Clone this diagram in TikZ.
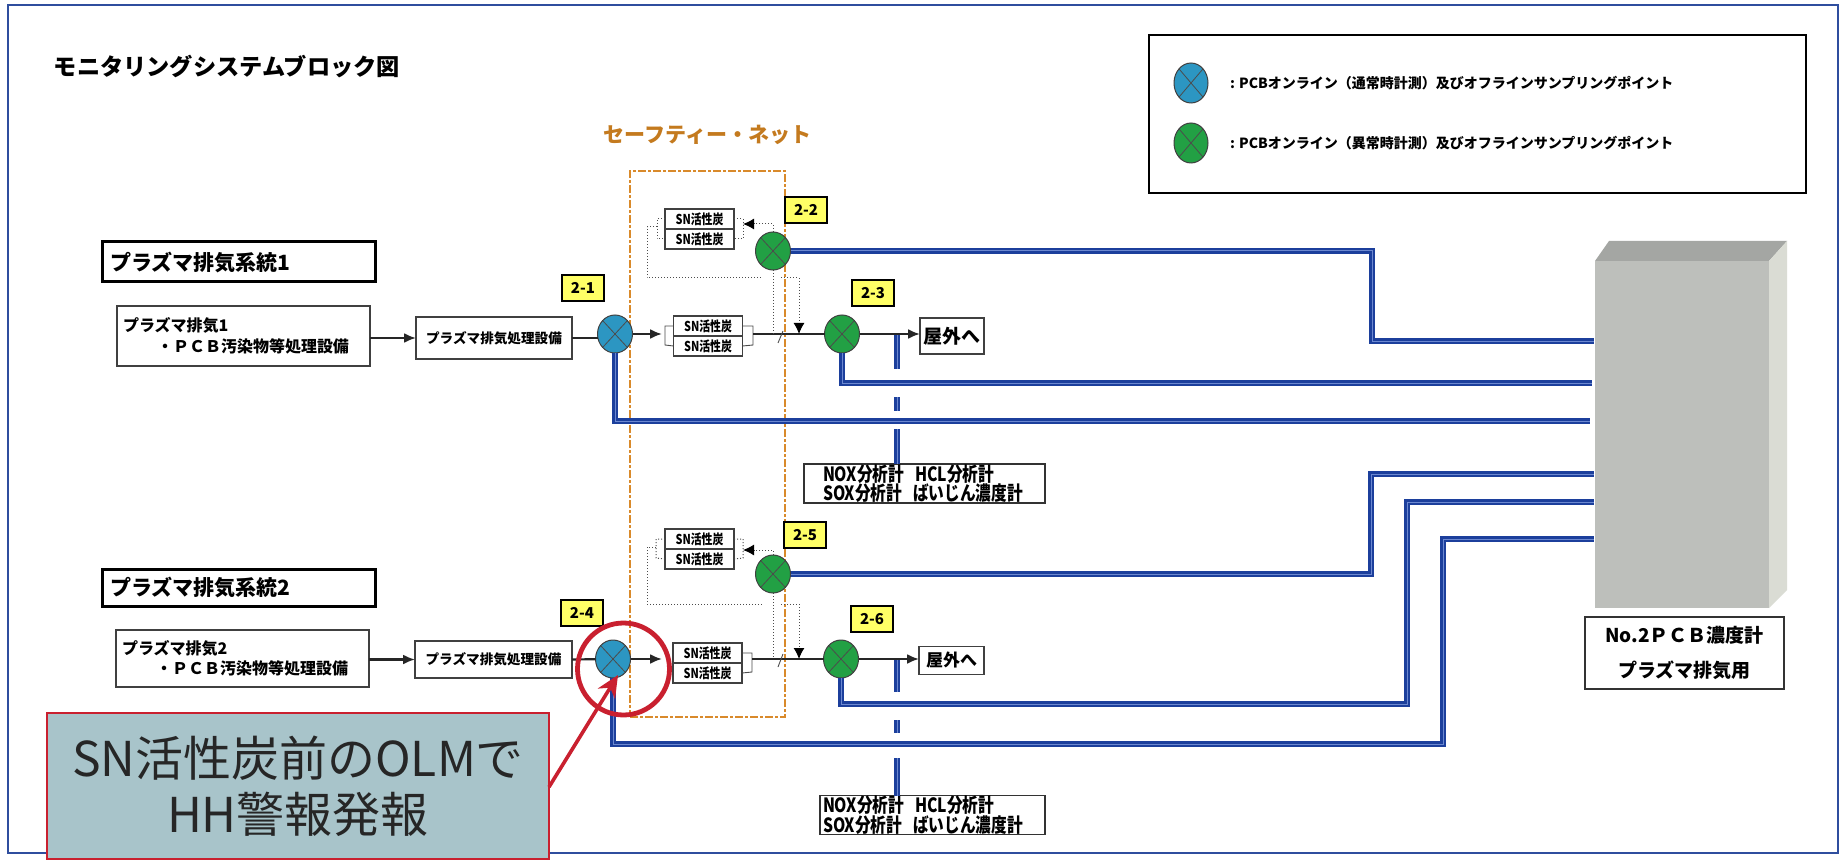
\documentclass[tikz,border=0pt]{standalone}
\usepackage{fontspec}
\usepackage{xcolor}
\setmainfont{Noto Sans CJK JP}
\newfontfamily\narrowfont[FakeStretch=0.8]{Noto Sans CJK JP}
\usetikzlibrary{arrows.meta, calc, positioning, shapes.geometric}
\newcommand{\pxfont}[2]{\fontsize{#1}{#2}\selectfont}
\definecolor{pipeblue}{HTML}{1C3F9C}
\definecolor{pipelight}{HTML}{6C88D0}
\definecolor{framecol}{HTML}{2F4E9E}
\definecolor{normalcol}{HTML}{2C96C2}
\definecolor{alarmcol}{HTML}{22A044}
\definecolor{safetycol}{HTML}{D98A2B}
\definecolor{safetytext}{HTML}{C47A1E}
\definecolor{tagyellow}{HTML}{FFFF66}
\definecolor{calloutcol}{HTML}{A8C4CA}
\definecolor{redcol}{HTML}{C9202F}
\definecolor{meterfront}{HTML}{BDBFBB}
\definecolor{metertop}{HTML}{A4A6A3}
\definecolor{meterside}{HTML}{DADCD4}
\begin{document}
\begin{tikzpicture}[x=0.5pt, y=-0.5pt,
    every node/.style={inner sep=0pt, outer sep=0pt},
    pipe/.style={draw=pipeblue, line width=1.05pt, double=pipelight, double distance=0.5pt},
    flow/.style={draw=black!85, line width=1.1pt},
    thinflow/.style={draw=black!70, line width=0.45pt},
    flowarrow/.style={flow, -{Latex[length=6pt, width=5pt]}},
    bypass/.style={draw=black!70, line width=0.5pt, densely dotted},
    bypassarrow/.style={bypass, -{Latex[length=5.5pt, width=5.5pt, color=black]}},
    tagbox/.style={draw=black, line width=0.9pt, fill=tagyellow, minimum width=21pt, minimum height=13pt, font=\pxfont{7.5}{9}\bfseries},
    sampleball/.style={ellipse, draw=black!75, line width=0.5pt, minimum width=17.5pt, minimum height=19pt,
        path picture={\draw[black!70, line width=0.4pt] (path picture bounding box.north west) -- (path picture bounding box.south east) (path picture bounding box.north east) -- (path picture bounding box.south west);}},
    normalball/.style={sampleball, fill=normalcol},
    alarmball/.style={sampleball, fill=alarmcol},
    carbonbox/.style={draw=black!75, line width=0.6pt, fill=white, minimum width=34.5pt, minimum height=10pt, font=\pxfont{6.8}{8}\narrowfont\bfseries},
    procbox/.style={draw=black!75, line width=0.6pt, fill=white, font=\pxfont{8}{10.2}\bfseries},
    linebox/.style={draw=black, line width=1.5pt, fill=white, text width=128.5pt, inner xsep=4pt, anchor=west, font=\pxfont{10.5}{12}\bfseries, align=left},
    gasbox/.style={draw=black!80, line width=0.6pt, fill=white, inner xsep=1pt, font=\pxfont{9.8}{9.8}\narrowfont\bfseries, align=left}]

    \path[use as bounding box, fill=white] (0,0) rectangle (1842,866);
    \draw[framecol, line width=0.8pt] (8,5) rectangle (1838,853);

    \node[anchor=west, font=\pxfont{11.6}{14}\bfseries] (title) at (54,67) {モニタリングシステムブロック図};

    \node[draw=black, line width=0.7pt, minimum width=328.5pt, minimum height=79pt] (legend) at (1477.5,114) {};
    \node[normalball, minimum width=17pt, minimum height=20pt] (legendnormal) at (1191,83) {};
    \node[alarmball, minimum width=17pt, minimum height=20pt] (legendalarm) at (1191,143) {};
    \node[anchor=west, font=\pxfont{7}{9}\bfseries] (legendnormaltext) at (1230,83) {: PCBオンライン（通常時計測）及びオフラインサンプリングポイント};
    \node[anchor=west, font=\pxfont{7}{9}\bfseries] (legendalarmtext) at (1230,143) {: PCBオンライン（異常時計測）及びオフラインサンプリングポイント};

    \node[draw=safetycol, line width=0.8pt, dash pattern=on 4pt off 1pt on 1.5pt off 1pt, minimum width=77.5pt, minimum height=273pt] (safety) at (707.5,444) {};
    \node[above=13pt of safety, text=safetytext, font=\pxfont{10.5}{12}\bfseries] (safetylabel) {セーフティー・ネット};

    \fill[meterfront] (1595,261) rectangle (1769,608);
    \fill[metertop] (1595,261) -- (1609,241) -- (1787,241) -- (1769,261) -- cycle;
    \fill[meterside] (1769,261) -- (1787,241) -- (1787,590) -- (1769,608) -- cycle;
    \node[draw=black!80, line width=0.6pt, fill=white, minimum width=99.5pt, minimum height=36pt, align=center, font=\pxfont{9.5}{17.5}\bfseries] (meterlabel) at (1684.5,653) {No.2ＰＣＢ濃度計\\プラズマ排気用};

    \node[alarmball] (c22) at (773,251) {};
    \node[normalball] (c21) at (615,334) {};
    \node[alarmball] (c23) at (842,334) {};
    \node[alarmball] (c25) at (773,574) {};
    \node[normalball] (c24) at (613,659) {};
    \node[alarmball] (c26) at (841,659) {};

    \coordinate (p1) at (1594,341);
    \coordinate (p2) at (1592,383);
    \coordinate (p3) at (1590,421);
    \coordinate (p4) at (1594,474);
    \coordinate (p5) at (1594,502);
    \coordinate (p6) at (1594,539);
    \draw[pipe] (c22.east) -| (1372,341) -- (p1);
    \draw[pipe] (c23.south) |- (p2);
    \draw[pipe] (c21.south) |- (p3);
    \draw[pipe] (c25.east) -| (1371,474) -- (p4);
    \draw[pipe] (c26.south) |- (1407,704) -- (1407,502) -- (p5);
    \draw[pipe] (c24.south) |- (1443,744) -- (1443,539) -- (p6);

    \node[gasbox, text width=118.5pt, minimum height=19.5pt] (gas1) at (924.5,483.5) {\hspace{8.5pt}NOX分析計\hspace{5.5pt}HCL分析計\\\hspace{8.5pt}SOX分析計\hspace{5.5pt}ばいじん濃度計};
    \node[gasbox, text width=110.5pt, minimum height=19pt] (gas2) at (932.5,815) {\hspace{0.5pt}NOX分析計\hspace{5.5pt}HCL分析計\\\hspace{0.5pt}SOX分析計\hspace{5.5pt}ばいじん濃度計};
    \coordinate (tap1) at (897,334);
    \coordinate (tap2) at (897,659);
    \draw[pipe, dash pattern=on 17.5pt off 14pt on 7pt off 9pt on 20pt] (tap1) -- (tap1 |- gas1.north);
    \draw[pipe, dash pattern=on 16.5pt off 14pt on 6.5pt off 12.5pt on 20pt] (tap2) -- (tap2 |- gas2.north);

    \node[linebox, minimum height=20pt] (line1) at (102,262) {プラズマ排気系統1};
    \node[procbox, align=left, text width=120.5pt, inner xsep=3pt, minimum height=30pt] (source1) at (243.5,336) {プラズマ排気1\\\hspace{17pt}・ＰＣＢ汚染物等処理設備};
    \node[procbox, minimum width=78pt, minimum height=21pt, font=\pxfont{6.8}{8}\bfseries] (treat1) at (494,338) {プラズマ排気処理設備};
    \node[linebox, minimum height=18.5pt] (line2) at (102,587.5) {プラズマ排気系統2};
    \node[procbox, align=left, text width=120.5pt, inner xsep=3pt, minimum height=28.5pt] (source2) at (242.5,658.5) {プラズマ排気2\\\hspace{17pt}・ＰＣＢ汚染物等処理設備};
    \node[procbox, minimum width=78.5pt, minimum height=18.5pt, font=\pxfont{6.8}{8}\bfseries] (treat2) at (493.5,659.5) {プラズマ排気処理設備};

    \node[carbonbox] (ca1) at (699.5,219) {SN活性炭};
    \node[carbonbox, below=0pt of ca1] (ca2) {SN活性炭};
    \node[carbonbox] (cb1) at (708,326) {SN活性炭};
    \node[carbonbox, below=0pt of cb1] (cb2) {SN活性炭};
    \node[carbonbox] (cc1) at (699.5,539) {SN活性炭};
    \node[carbonbox, below=0pt of cc1] (cc2) {SN活性炭};
    \node[carbonbox] (cd1) at (707.5,653) {SN活性炭};
    \node[carbonbox, below=0pt of cd1] (cd2) {SN活性炭};

    \node[procbox, minimum width=32pt, minimum height=18pt, font=\pxfont{9.5}{11}\bfseries] (out1) at (952,336) {屋外へ};
    \node[procbox, minimum width=32.5pt, minimum height=14pt, font=\pxfont{8.5}{10}\bfseries] (out2) at (951.5,660.5) {屋外へ};

    \node[tagbox] (t21) at (583,288) {2-1};
    \node[tagbox] (t22) at (806,210) {2-2};
    \node[tagbox] (t23) at (873,293) {2-3};
    \node[tagbox] (t24) at (582,613) {2-4};
    \node[tagbox] (t25) at (805,535) {2-5};
    \node[tagbox] (t26) at (872,619) {2-6};

    \draw[flowarrow] (source1.east |- treat1.west) -- (treat1.west);
    \draw[flow] (treat1.east) -- (c21.west |- treat1.east);
    \draw[flowarrow] (c21.east) -- (662,334);
    \coordinate (mid1) at (753,334);
    \draw[thinflow] (cb1.east) -- (753,326) -- (753,345) -- (cb2.east);
    \draw[thinflow] (cb1.west) -- (665,326) -- (665,345) -- (cb2.west);
    \draw[flow] (mid1) -- (c23);
    \draw[flowarrow] (c23.east) -- (out1.west |- c23.east);
    \draw[thinflow] (778,343) -- (783,331);

    \draw[flowarrow] (source2.east |- treat2.west) -- (treat2.west);
    \draw[flow] (treat2.east) -- (c24);
    \draw[flowarrow] (c24.east) -- (662,659);
    \coordinate (mid2) at (752,659);
    \draw[thinflow] (cd1.east) -- (752,653) -- (752,672) -- (cd2.east);
    \draw[flow] (mid2) -- (c26);
    \draw[flowarrow] (c26.east) -- (out2.west |- c26.east);
    \draw[thinflow] (778,667) -- (783,654);

    \coordinate (bl1) at (657,227);
    \coordinate (bt1) at (743,224);
    \coordinate (dr1) at (762,278);
    \coordinate (dl1) at (781,278);
    \coordinate (ju1) at (799,334);
    \draw[bypass] (ca1.west) -- (657,219) -- (657,239) -- (ca2.west);
    \draw[bypass] (ca1.east) -- (743,219) -- (743,239) -- (ca2.east);
    \draw[bypassarrow] (c22.north) |- (bt1);
    \draw[bypass] (bl1) -- (647,227) -- (647,278) -- (dr1);
    \draw[bypass] (c22.south) -- (c22.south |- c23.west);
    \draw[bypassarrow] (dl1) -| (ju1);

    \coordinate (bl2) at (656,547);
    \coordinate (bt2) at (743,550);
    \coordinate (dr2) at (762,604);
    \coordinate (dl2) at (781,604);
    \coordinate (ju2) at (799,659);
    \draw[bypass] (cc1.west) -- (656,539) -- (656,558) -- (cc2.west);
    \draw[bypass] (cc1.east) -- (743,539) -- (743,558) -- (cc2.east);
    \draw[bypassarrow] (c25.north) |- (bt2);
    \draw[bypass] (bl2) -- (647,547) -- (647,604) -- (dr2);
    \draw[bypass] (c25.south) -- (c25.south |- c26.west);
    \draw[bypassarrow] (dl2) -| (ju2);

    \node[draw=redcol, line width=1pt, fill=calloutcol, minimum width=251pt, minimum height=73pt, align=center, text=black!85, font=\pxfont{24}{28}] (callout) at (298,786) {SN活性炭前のOLMで\\HH警報発報};
    \node[circle, draw=redcol, line width=2.4pt, minimum size=46pt] (ring) at (623.5,669) {};
    \coordinate (calloutport) at (549,787);
    \coordinate (ringtip) at (618,675);
    \draw[redcol, line width=1.8pt, -{Stealth[length=11pt, width=10pt]}] (calloutport) -- (ringtip);
\end{tikzpicture}
\end{document}
